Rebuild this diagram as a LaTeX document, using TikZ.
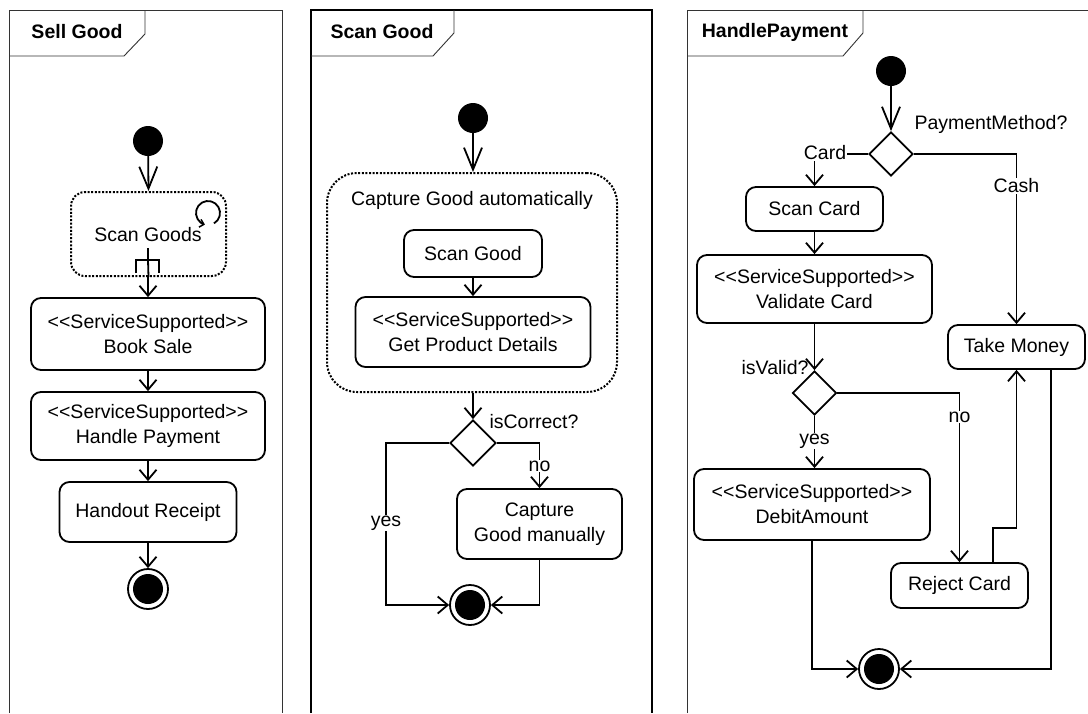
\documentclass[tikz,border=0pt]{standalone}
\usepackage{fontspec}
\setmainfont{Liberation Sans}
\usetikzlibrary{arrows.meta,shapes.geometric}
\begin{document}
\begin{tikzpicture}[x=1pt,y=-1pt,
  every node/.style={font=\fontsize{19.5}{25}\selectfont},
  frame/.style={line width=0.9pt, draw=black!80},
  frameb/.style={line width=2pt, draw=black},
  title/.style={font=\fontsize{19.5}{25}\selectfont\bfseries},
  action/.style={draw, rounded corners=10pt, line width=1.8pt, align=center, inner sep=0pt},
  region/.style={draw, dash pattern=on 2pt off 1.6pt, line width=2pt, inner sep=0pt},
  decision/.style={draw, diamond, line width=1.8pt, minimum width=46pt, minimum height=46pt, inner sep=0pt},
  initial/.style={circle, fill=black, minimum size=30pt, inner sep=0pt},
  final/.style={circle, draw, line width=1.8pt, minimum size=40pt, inner sep=0pt, path picture={\fill[black] (path picture bounding box.center) circle (15pt);}},
  arr/.style={line width=1.8pt, -{Straight Barb[length=10pt,width=17pt,line width=1.8pt]}},
  iarr/.style={line width=1.8pt, -{Straight Barb[length=22pt,width=18pt,line width=1.8pt]}},
  conn/.style={line width=1.8pt},
  lbl/.style={fill=white, inner sep=1pt}
]
\useasboundingbox (0,0) rectangle (1088,713);
\fill[white] (0,0) rectangle (1088,713);

% ---------- frames ----------
\draw[frame] (9,713) -- (9,10) -- (282,10) -- (282,713);
\draw[frame] (9,56) -- (124,56) -- (145,34) -- (145,10);
\node[title] (t1) at (77,32) {Sell Good};

\draw[frameb] (311,713) -- (311,10) -- (652,10) -- (652,713);
\draw[frame] (311,56) -- (433,56) -- (454,33) -- (454,10);
\node[title] (t2) at (382,32) {Scan Good};

\draw[frame] (687,713) -- (687,10) -- (1088,10);
\draw[frame] (687,56) -- (843,56) -- (863,33) -- (863,10);
\node[title] (t3) at (775,32) {HandlePayment};

% ---------- panel 1 ----------
\node[initial] (i1) at (148,141) {};
\node[region, rounded corners=14pt, minimum width=155pt, minimum height=84pt] (sg) at (148.5,234) {};
\node (sgt) at (148,235) {Scan Goods};
\node[action, minimum width=234pt, minimum height=72pt] (bs) at (148,334) {{<}{<}ServiceSupported{>}{>}\\Book Sale};
\node[action, minimum width=234pt, minimum height=68pt] (hp) at (148,426) {{<}{<}ServiceSupported{>}{>}\\Handle Payment};
\node[action, minimum width=177pt, minimum height=60pt] (hr) at (148,512) {Handout Receipt};
\node[final] (f1) at (148,589) {};

% loop icon
\coordinate (loopc) at (208,213);
\draw[line width=1.8pt, -{Straight Barb[length=4pt,width=8pt,line width=1.5pt]}] (loopc) ++(60:12) arc (60:-255:12);
% rake icon
\coordinate (rk) at (148,248);
\draw[line width=1.8pt] (rk) -- ++(0,12);
\draw[line width=1.8pt] (136,273) -- (136,260) -- (159,260) -- (159,273);

\draw[iarr] (i1) -- (sg.north);
\draw[arr] (rk |- sg.south) -- (bs.north);
\draw[conn] (rk) ++(0,12) -- (sg.south);
\draw[arr] (bs) -- (hp);
\draw[arr] (hp) -- (hr);
\draw[arr] (hr) -- (f1);

% ---------- panel 2 ----------
\node[initial] (i2) at (473,118) {};
\node[region, rounded corners=30pt, minimum width=290pt, minimum height=219pt] (cga) at (472,282.5) {};
\node (cgat) at (472,200) {Capture Good automatically};
\node[action, minimum width=138pt, minimum height=47pt] (sgd) at (473,253.5) {Scan Good};
\node[action, minimum width=235pt, minimum height=70pt] (gpd) at (473,332) {{<}{<}ServiceSupported{>}{>}\\Get Product Details};
\node[decision] (d2) at (473,443) {};
\node[anchor=west] (d2l) at (486,422) {isCorrect?};
\node[action, minimum width=165pt, minimum height=70pt] (cgm) at (539.5,524) {Capture\\Good manually};
\node[final] (f2) at (470,605) {};
\coordinate (yc) at (386,605);

\draw[iarr] (i2) -- (i2 |- cga.north);
\draw[arr] (sgd) -- (gpd);
\draw[arr] (d2 |- cga.south) -- (d2.north);
\draw[arr] (d2.west) -- (d2.west -| yc) -- (yc) -- (f2.west);
\node[lbl] (yes2) at (386,523) {yes};
\draw[arr] (d2.east) -| (cgm.north);
\node[lbl] (no2) at (539.5,466) {no};
\draw[arr] (cgm.south) |- (f2.east);

% ---------- panel 3 ----------
\node[initial] (i3) at (891,71) {};
\node[decision, minimum width=44pt, minimum height=44pt] (d3) at (891,154) {};
\node[anchor=west] (pm) at (911,124) {PaymentMethod?};
\node[action, minimum width=137pt, minimum height=44pt] (sc) at (814.5,209) {Scan Card};
\node[action, minimum width=235pt, minimum height=68pt] (vc) at (814.5,289) {{<}{<}ServiceSupported{>}{>}\\Validate Card};
\node[action, minimum width=137pt, minimum height=44pt] (tm) at (1016.5,347) {Take Money};
\node[decision, minimum width=44pt, minimum height=44pt] (d4) at (814.5,393) {};
\node[anchor=east] (ivl) at (812,368) {isValid?};
\node[action, minimum width=236pt, minimum height=71pt] (da) at (812,504.5) {{<}{<}ServiceSupported{>}{>}\\DebitAmount};
\node[action, minimum width=137pt, minimum height=45pt] (rc) at (959.5,585.5) {Reject Card};
\node[final] (f3) at (879,669) {};
\coordinate (r1) at (993,528);
\coordinate (tmb) at (1051,669);

\draw[iarr] (i3) -- (d3.north);
\draw[arr] (d3.west) -| (sc.north);
\node[lbl] (card) at (825,153) {Card};
\draw[arr] (sc) -- (vc);
\draw[arr] (d3.east) -| (tm.north);
\node[lbl] (cash) at (1016.5,186) {Cash};
\draw[arr] (vc.south) -- (d4.north);
\draw[arr] (d4.south) -- (d4.south |- da.north);
\node[lbl] (yes3) at (814.5,441) {yes};
\draw[arr] (d4.east) -| (rc.north);
\node[lbl] (no3) at (959.5,417) {no};
\draw[arr] (r1 |- rc.north) -- (r1) -| (tm.south);
\draw[arr] (tmb |- tm.south) -- (tmb) -- (f3.east);
\draw[arr] (da.south) |- (f3.west);
\end{tikzpicture}
\end{document}
